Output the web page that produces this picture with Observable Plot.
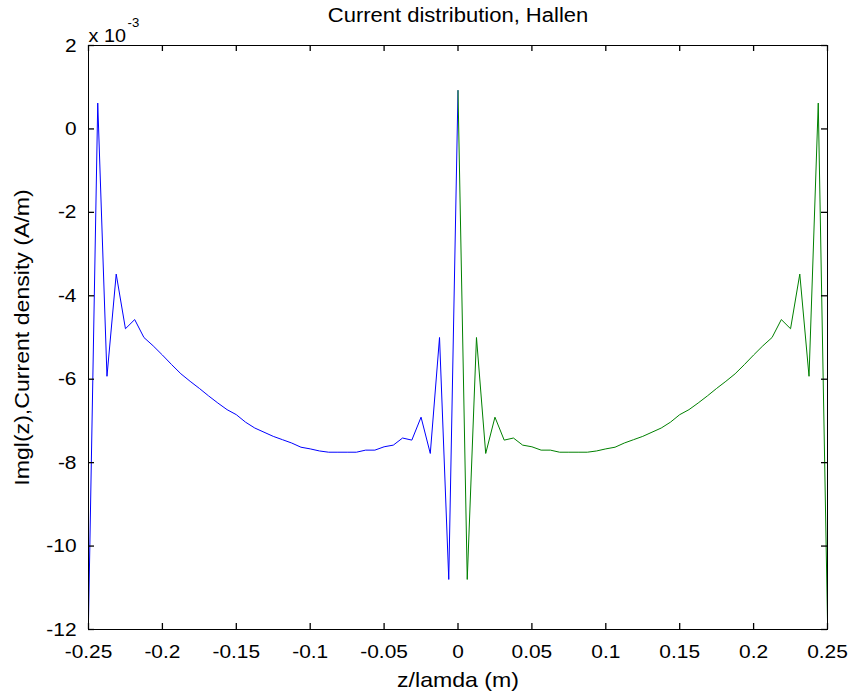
<!DOCTYPE html>
<html><head><meta charset="utf-8">
<script src="https://cdn.jsdelivr.net/npm/d3@7"></script>
<script src="https://cdn.jsdelivr.net/npm/@observablehq/plot@0.6"></script>
<style>
body{margin:0;background:#fff}
svg{font-family:"Liberation Sans",Arial,sans-serif}
</style>
</head><body><div id="chart"></div>
<script>
// z/lambda positions (m) and Im I(z) current density (x 10^-3 A/m)
const zBlue = [-0.25,-0.24375,-0.2375,-0.23125,-0.225,-0.21875,-0.2125,-0.20625,-0.2,-0.19375,-0.1875,-0.18125,-0.175,-0.16875,-0.1625,-0.15625,-0.15,-0.14375,-0.1375,-0.13125,-0.125,-0.11875,-0.1125,-0.10625,-0.1,-0.09375,-0.0875,-0.08125,-0.075,-0.06875,-0.0625,-0.05625,-0.05,-0.04375,-0.0375,-0.03125,-0.025,-0.01875,-0.0125,-0.00625,0];
const iBlue = [-11.8,0.62,-5.93,-3.48,-4.79,-4.57,-5.0,-5.2,-5.42,-5.65,-5.87,-6.05,-6.22,-6.4,-6.57,-6.73,-6.85,-7.03,-7.17,-7.27,-7.37,-7.45,-7.53,-7.63,-7.67,-7.72,-7.75,-7.75,-7.75,-7.75,-7.7,-7.7,-7.62,-7.58,-7.41,-7.46,-6.91,-7.78,-5.0,-10.8,0.92];
const zGreen = [0,0.00625,0.0125,0.01875,0.025,0.03125,0.0375,0.04375,0.05,0.05625,0.0625,0.06875,0.075,0.08125,0.0875,0.09375,0.1,0.10625,0.1125,0.11875,0.125,0.13125,0.1375,0.14375,0.15,0.15625,0.1625,0.16875,0.175,0.18125,0.1875,0.19375,0.2,0.20625,0.2125,0.21875,0.225,0.23125,0.2375,0.24375,0.25];
const iGreen = [0.92,-10.8,-5.0,-7.78,-6.91,-7.46,-7.41,-7.58,-7.62,-7.7,-7.7,-7.75,-7.75,-7.75,-7.75,-7.72,-7.67,-7.63,-7.53,-7.45,-7.37,-7.27,-7.17,-7.03,-6.85,-6.73,-6.57,-6.4,-6.22,-6.05,-5.87,-5.65,-5.42,-5.2,-5.0,-4.57,-4.79,-3.48,-5.93,0.62,-11.8];
const xTicks = [-0.25,-0.2,-0.15,-0.1,-0.05,0,0.05,0.1,0.15,0.2,0.25];
const yTicks = [-12,-10,-8,-6,-4,-2,0,2];
const titleText = ["Current distribution, Hallen"];
const xLabel = ["z/lamda (m)"];
const yLabel = ["Imgl(z),Current density (A/m)"];
const expBase = ["x 10"];
const expPow = ["-3"];

const blue = zBlue.map((z, i) => ({z, v: iBlue[i]}));
const green = zGreen.map((z, i) => ({z, v: iGreen[i]}));
const fmt = d => String(d);

const W = 853, H = 696, mL = 88, mR = 26, mT = 45, mB = 67;
const innerW = W - mL - mR, innerH = H - mT - mB;
const tickLen = 6;
const tickStyle = {stroke: "#000", strokeWidth: 1.3};

const chart = Plot.plot({
  width: W, height: H,
  marginLeft: mL, marginRight: mR, marginTop: mT, marginBottom: mB,
  style: {fontFamily: "'Liberation Sans', Arial, sans-serif", fontSize: "19px", background: "#fff", color: "#000", overflow: "visible"},
  x: {domain: [-0.25, 0.25]},
  y: {domain: [-12, 2]},
  marks: [
    Plot.line(blue, {x: "z", y: "v", stroke: "#0000ff", strokeWidth: 1}),
    Plot.line(green, {x: "z", y: "v", stroke: "#008000", strokeWidth: 1}),
    Plot.frame({stroke: "#000", strokeWidth: 1}),
    // inward tick marks on all four sides
    Plot.tickX(xTicks, {x: d => d, ...tickStyle, insetTop: innerH - tickLen}),
    Plot.tickX(xTicks, {x: d => d, ...tickStyle, insetBottom: innerH - tickLen}),
    Plot.tickY(yTicks, {y: d => d, ...tickStyle, insetRight: innerW - tickLen}),
    Plot.tickY(yTicks, {y: d => d, ...tickStyle, insetLeft: innerW - tickLen}),
    Plot.axisX({anchor: "bottom", ticks: xTicks, tickSize: 0, tickPadding: 15, tickFormat: fmt, label: null, fontSize: 19}),
    Plot.axisY({anchor: "left", ticks: yTicks, tickSize: 0, tickPadding: 12, tickFormat: fmt, label: null, fontSize: 19}),
    Plot.text(titleText, {frameAnchor: "top", dy: -38, fontSize: 20}),
    Plot.text(expBase, {frameAnchor: "top-left", textAnchor: "start", dx: 0, dy: -16, fontSize: 18}),
    Plot.text(expPow, {frameAnchor: "top-left", textAnchor: "start", dx: 39, dy: -27, fontSize: 12}),
    Plot.text(xLabel, {frameAnchor: "bottom", dy: 57, fontSize: 21}),
    Plot.text(yLabel, {frameAnchor: "left", textAnchor: "middle", dx: -66, rotate: -90, fontSize: 21})
  ]
});
document.getElementById("chart").appendChild(chart);
// the reference's text is rendered slightly wider than Arial: stretch glyphs horizontally
const stretch = 1.1;
chart.querySelectorAll("text").forEach(t => {
  const len = t.getComputedTextLength();
  if (len > 0) {
    t.setAttribute("textLength", (len * stretch).toFixed(1));
    t.setAttribute("lengthAdjust", "spacingAndGlyphs");
  }
});
</script>
</body></html>
